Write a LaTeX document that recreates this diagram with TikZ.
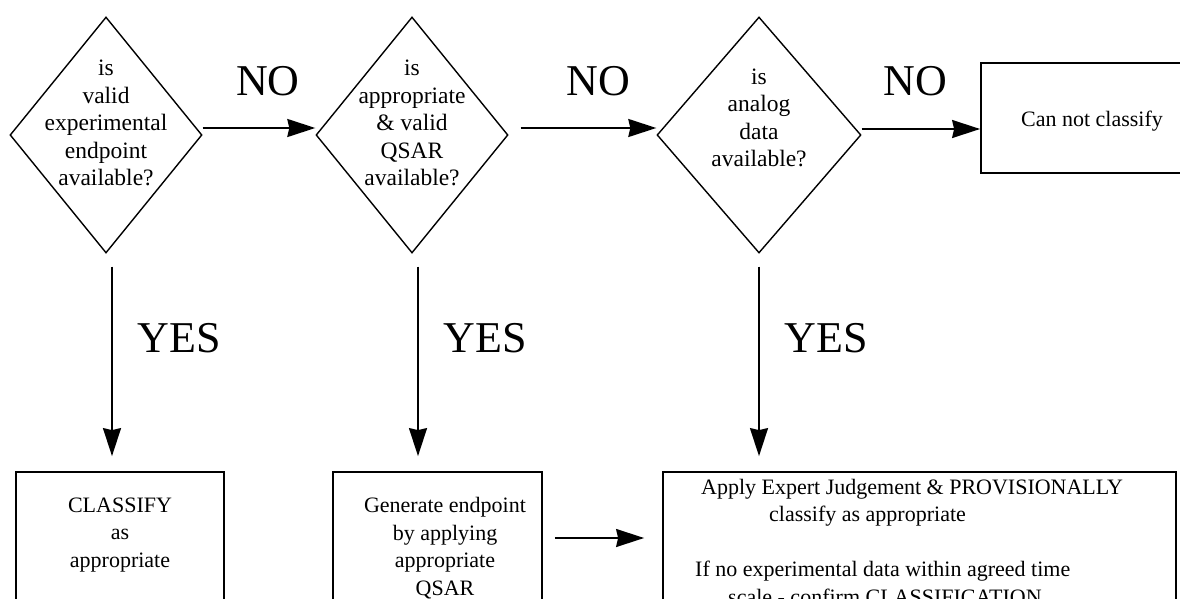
\documentclass[tikz,border=0pt]{standalone}
\usepackage{fontspec}
\setmainfont{Liberation Serif}
\usetikzlibrary{shapes.geometric,arrows.meta}
\begin{document}
\begin{tikzpicture}[x=1pt,y=-1pt,
  decision/.style={diamond,draw,line width=1.4pt,inner sep=0pt,minimum height=236pt},
  boxnode/.style={rectangle,draw,line width=1.8pt,inner sep=0pt},
  qtext/.style={align=center,inner sep=0pt,font=\fontsize{23.5}{27.5}\selectfont},
  btext/.style={align=center,inner sep=0pt,font=\fontsize{22}{27.5}\selectfont},
  biglabel/.style={inner sep=0pt,anchor=base,font=\fontsize{44}{50}\selectfont},
  arr/.style={line width=1.8pt,-{Stealth[length=28pt,width=18pt,inset=2pt]}}]
\useasboundingbox (0,0) rectangle (1180,599);
\clip (0,0) rectangle (1180,599);

% decisions
\node[decision,minimum width=192pt] (d1) at (106,135) {};
\node[decision,minimum width=192pt] (d2) at (412,135) {};
\node[decision,minimum width=204pt] (d3) at (759,135) {};
\node[qtext] (t1) at (106,123) {is\\valid\\experimental\\endpoint\\available?};
\node[qtext] (t2) at (412,123) {is\\appropriate\\\& valid\\QSAR\\available?};
\node[qtext] (t3) at (759,118) {is\\analog\\data\\available?};

% boxes
\node[boxnode,minimum width=222pt,minimum height=110pt] (cnc) at (1092,118) {};
\node[btext] (cnct) at (1092,121) {Can not classify};
\node[boxnode,minimum width=208pt,minimum height=148pt] (b1) at (120,546) {};
\node[btext] (b1t) at (120,535) {CLASSIFY\\as\\appropriate};
\node[boxnode,minimum width=209pt,minimum height=148pt] (b2) at (437.5,546) {};
\node[btext] (b2t) at (445,548) {Generate endpoint\\by applying\\appropriate\\QSAR};
\node[boxnode,minimum width=513pt,minimum height=148pt] (b3) at (919.5,546) {};
\node[btext,align=left,anchor=north west] (b3t) at (695,479)
  {\hspace*{6pt}Apply Expert Judgement \& PROVISIONALLY\\
   \hspace*{74pt}classify as appropriate\\[27.5pt]
   If no experimental data within agreed time\\
   \hspace*{33pt}scale - confirm CLASSIFICATION};

% labels
\node[biglabel] (no1) at (268,96) {NO};
\node[biglabel] (no2) at (598,96) {NO};
\node[biglabel] (no3) at (915,96) {NO};
\node[biglabel] (yes1) at (179.5,352) {YES};
\node[biglabel] (yes2) at (485.5,352) {YES};
\node[biglabel] (yes3) at (826.5,352) {YES};

% connectors
\draw[arr] ([yshift=7pt]d1.east) -- ([yshift=7pt]d2.west);
\draw[arr] ([shift={(12pt,7pt)}]d2.east) -- ([yshift=7pt]d3.west);
\draw[arr] ([yshift=6pt]d3.east) -- ([yshift=-11pt]cnc.west);
\draw[arr] ([shift={(6pt,-13pt)}]d1.south) -- ([shift={(-8pt,15pt)}]b1.north);
\draw[arr] ([shift={(6pt,-13pt)}]d2.south) -- ([shift={(-19.5pt,15pt)}]b2.north);
\draw[arr] ([shift={(0pt,-13pt)}]d3.south) -- ([shift={(-160.5pt,15pt)}]b3.north);
\draw[arr] ([shift={(12pt,8pt)}]b2.east) -- ([shift={(-18pt,8pt)}]b3.west);
\end{tikzpicture}
\end{document}
